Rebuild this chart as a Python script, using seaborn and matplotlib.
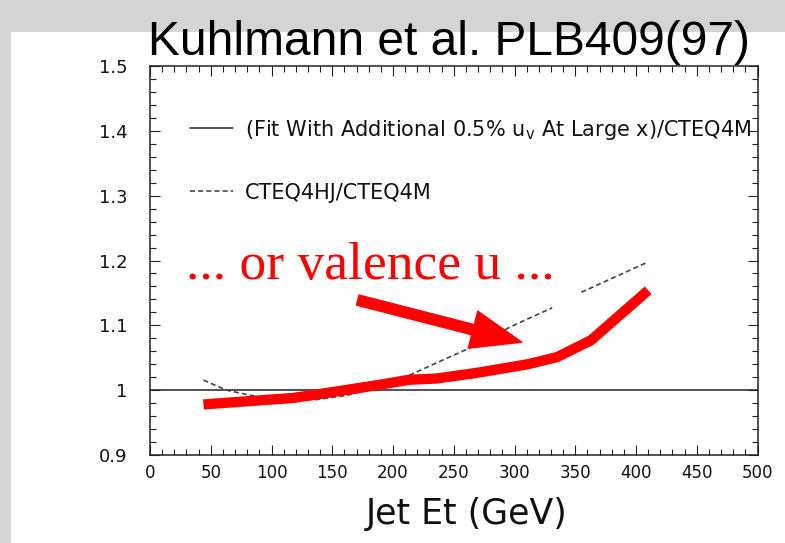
import numpy as np
import pandas as pd
import matplotlib
matplotlib.use("Agg")
import matplotlib.pyplot as plt
from matplotlib.patches import Rectangle
from matplotlib.ticker import MultipleLocator
import seaborn as sns

# --- data -------------------------------------------------------------
# ratio of the fit with an extra 0.5% valence-u at large x to CTEQ4M
fit_x = [0, 500]
fit_y = [1.0, 1.0]

# CTEQ4HJ / CTEQ4M (two plotted pieces)
hj_x = [44, 63, 88, 115, 137, 162, 185, 211, 244, 269, 297, 331,
        355, 382, 409]
hj_y = [1.0155, 1.0, 0.990, 0.986, 0.9855, 0.992, 1.003, 1.021, 1.049,
        1.070, 1.098, 1.127,
        1.151, 1.174, 1.197]
hj_seg = [0] * 12 + [1] * 3

# highlighted valence-u curve
vu_x = [44, 118, 150, 188, 213, 236, 270, 311, 335, 363, 410]
vu_y = [0.978, 0.988, 0.997, 1.008, 1.016, 1.018, 1.027, 1.040, 1.051,
        1.077, 1.154]

x_ticks = [0, 50, 100, 150, 200, 250, 300, 350, 400, 450, 500]
y_ticks = [0.9, 1.0, 1.1, 1.2, 1.3, 1.4, 1.5]
y_tick_labels = ["0.9", "1", "1.1", "1.2", "1.3", "1.4", "1.5"]

label_fit = "(Fit With Additional 0.5% u$_\\mathregular{v}$ At Large x)/CTEQ4M"
label_hj = "CTEQ4HJ/CTEQ4M"
title = "Kuhlmann et al. PLB409(97)"
note = "... or valence u ..."

# --- style ------------------------------------------------------------
sns.set_style("ticks")
plt.rcParams["font.family"] = ["DejaVu Sans"]
plt.rcParams["xtick.direction"] = "in"
plt.rcParams["ytick.direction"] = "in"

fig = plt.figure(figsize=(7.85, 5.43), dpi=100)
fig.patch.set_facecolor("#d4d4d4")
panel = Rectangle((11 / 785, 0), 1.0, (543 - 32) / 543,
                  transform=fig.transFigure,
                  facecolor="white", edgecolor="none", zorder=-10)
fig.add_artist(panel)

ax = fig.add_axes([150 / 785, 1 - 455 / 543, 607.5 / 785, 389 / 543])
ax.set_facecolor("white")
ax.set_zorder(1)

df_fit = pd.DataFrame({"x": fit_x, "y": fit_y})
df_hj = pd.DataFrame({"x": hj_x, "y": hj_y, "seg": hj_seg})
df_vu = pd.DataFrame({"x": vu_x, "y": vu_y})

sns.lineplot(data=df_fit, x="x", y="y", ax=ax, color="#222222",
             linewidth=1.1, legend=False)
fit_line = ax.lines[-1]
sns.lineplot(data=df_hj, x="x", y="y", units="seg", estimator=None, ax=ax,
             color="#444444", linewidth=1.2, dashes=False, legend=False)
hj_lines = ax.lines[1:]
for ln in hj_lines:
    ln.set_dashes((3.0, 1.9))
sns.lineplot(data=df_vu, x="x", y="y", ax=ax, color="#ff0000",
             linewidth=7.4, legend=False, zorder=5)
ax.lines[-1].set_solid_capstyle("butt")
ax.lines[-1].set_solid_joinstyle("miter")

ax.set_xlim(0, 500)
ax.set_ylim(0.9, 1.5)
ax.set_xticks(x_ticks)
ax.set_yticks(y_ticks)
ax.set_yticklabels(y_tick_labels)
ax.xaxis.set_minor_locator(MultipleLocator(10))
ax.yaxis.set_minor_locator(MultipleLocator(0.02))
ax.tick_params(which="both", top=True, right=True, color="#222222",
               width=0.8)
ax.tick_params(which="major", length=7.5)
ax.tick_params(which="minor", length=4)
ax.tick_params(axis="y", labelsize=13, pad=16, labelcolor="#111111")
ax.tick_params(axis="x", labelsize=12, pad=6.5, labelcolor="#111111")
for sp in ax.spines.values():
    sp.set_linewidth(1.1)
    sp.set_color("#222222")

ax.set_xlabel("Jet Et (GeV)", fontsize=25, color="#111111")
ax.set_ylabel("")
ax.xaxis.set_label_coords(0.522, -0.108)

ax.legend(handles=[fit_line, hj_lines[0]], labels=[label_fit, label_hj],
          loc="upper left", bbox_to_anchor=(0.066, 0.867),
          frameon=False, fontsize=15, handlelength=2.05,
          handletextpad=0.6, labelspacing=1.97, borderaxespad=0,
          borderpad=0, labelcolor="#111111")

# annotation
ax.text(30, 1.172, note, family="Liberation Serif", fontsize=38.5,
        color="#ff0000", ha="left", va="baseline", zorder=6)
ax.annotate("", xy=(306, 1.074), xytext=(171, 1.139),
            arrowprops=dict(arrowstyle="simple,head_length=1.45,head_width=1.1,tail_width=0.3",
                            color="#ff0000", mutation_scale=25,
                            shrinkA=0, shrinkB=0),
            zorder=6)

fig.text(449 / 785, 1 - 55 / 543, title, family="Liberation Sans",
         fontsize=34.5, color="black", ha="center", va="baseline",
         zorder=5)

fig.savefig("out.png", dpi=100)
